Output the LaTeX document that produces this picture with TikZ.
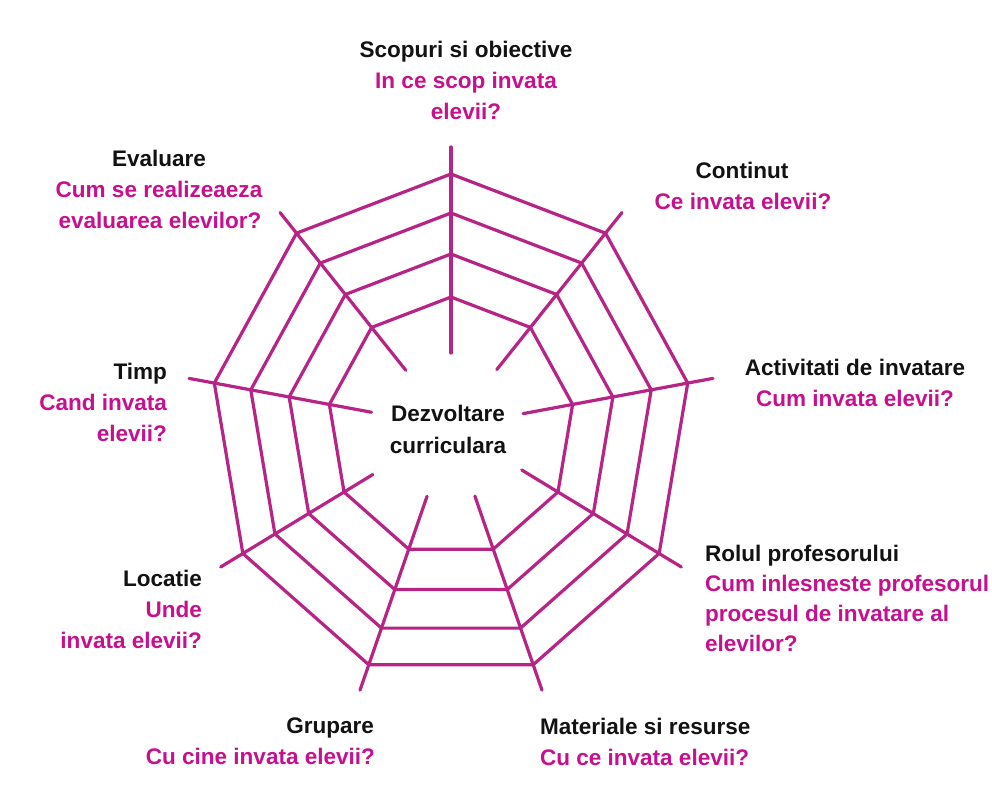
\documentclass[tikz,border=0pt]{standalone}
\usepackage{fontspec}
\setmainfont{Liberation Sans}
\definecolor{webc}{RGB}{182,36,134}
\definecolor{qpink}{RGB}{198,16,142}
\definecolor{inkc}{RGB}{18,18,18}
\begin{document}
\begin{tikzpicture}[x=0.75pt,y=-0.75pt,
  txt/.style={font=\fontsize{16.9}{21}\selectfont\bfseries, inner sep=0pt, outer sep=0pt},
  head/.style={txt, text=inkc},
  ques/.style={txt, text=qpink},
  webline/.style={draw=webc, line width=2.4pt, line cap=round, line join=round}]
\useasboundingbox (0,0) rectangle (992,790);
\fill[white] (0,0) rectangle (992,790);

% ---------- web ----------
\begin{scope}[shift={(451,427)}, xscale=0.95, yscale=-1]
  \foreach \k/\rin in {0/74,1/75,2/77,3/86,4/73.5,5/73.7,6/95,7/85,8/74} {
    \pgfmathsetmacro\ang{90-40*\k}
    \coordinate (in\k) at (\ang:\rin);
    \coordinate (out\k) at (\ang:280);
    \foreach \j/\r in {1/253,2/214,3/173,4/130} {
      \coordinate (r\j-\k) at (\ang:\r);
    }
  }
  \foreach \k in {0,...,8} \draw[webline] (in\k) -- (out\k);
  \foreach \j in {1,...,4}
    \draw[webline] (r\j-0) -- (r\j-1) -- (r\j-2) -- (r\j-3) -- (r\j-4)
      -- (r\j-5) -- (r\j-6) -- (r\j-7) -- (r\j-8) -- cycle;
\end{scope}

% ---------- centre ----------
\node[head, anchor=base] (c1) at (448,421) {Dezvoltare};
\node[head, anchor=base] (c2) at (448,453) {curriculara};

% ---------- Scopuri ----------
\node[head, anchor=base] (s1) at (466,57) {Scopuri si obiective};
\node[ques, anchor=base] (s2) at (466,88) {In ce scop invata};
\node[ques, anchor=base] (s3) at (466,119) {elevii?};

% ---------- Continut ----------
\node[head, anchor=base] (n1) at (742,178) {Continut};
\node[ques, anchor=base] (n2) at (743,209) {Ce invata elevii?};

% ---------- Activitati ----------
\node[head, anchor=base] (a1) at (855,375) {Activitati de invatare};
\node[ques, anchor=base] (a2) at (855,406) {Cum invata elevii?};

% ---------- Rolul ----------
\node[head, anchor=base west] (p1) at (705,561) {Rolul profesorului};
\node[ques, anchor=base west] (p2) at (705,591) {Cum inlesneste profesorul};
\node[ques, anchor=base west] (p3) at (705,621) {procesul de invatare al};
\node[ques, anchor=base west] (p4) at (705,651) {elevilor?};

% ---------- Materiale ----------
\node[head, anchor=base west] (m1) at (540,734) {Materiale si resurse};
\node[ques, anchor=base west] (m2) at (540,765) {Cu ce invata elevii?};

% ---------- Grupare ----------
\node[head, anchor=base east] (g1) at (374,733) {Grupare};
\node[ques, anchor=base east] (g2) at (375,764) {Cu cine invata elevii?};

% ---------- Locatie ----------
\node[head, anchor=base east] (l1) at (202,586) {Locatie};
\node[ques, anchor=base east] (l2) at (202,617) {Unde};
\node[ques, anchor=base east] (l3) at (202,648) {invata elevii?};

% ---------- Timp ----------
\node[head, anchor=base east] (t1) at (167,379) {Timp};
\node[ques, anchor=base east] (t2) at (167,410) {Cand invata};
\node[ques, anchor=base east] (t3) at (167,441) {elevii?};

% ---------- Evaluare ----------
\node[head, anchor=base] (e1) at (159,166) {Evaluare};
\node[ques, anchor=base] (e2) at (159,197) {Cum se realizeaeza};
\node[ques, anchor=base] (e3) at (160,228) {evaluarea elevilor?};
\end{tikzpicture}
\end{document}
